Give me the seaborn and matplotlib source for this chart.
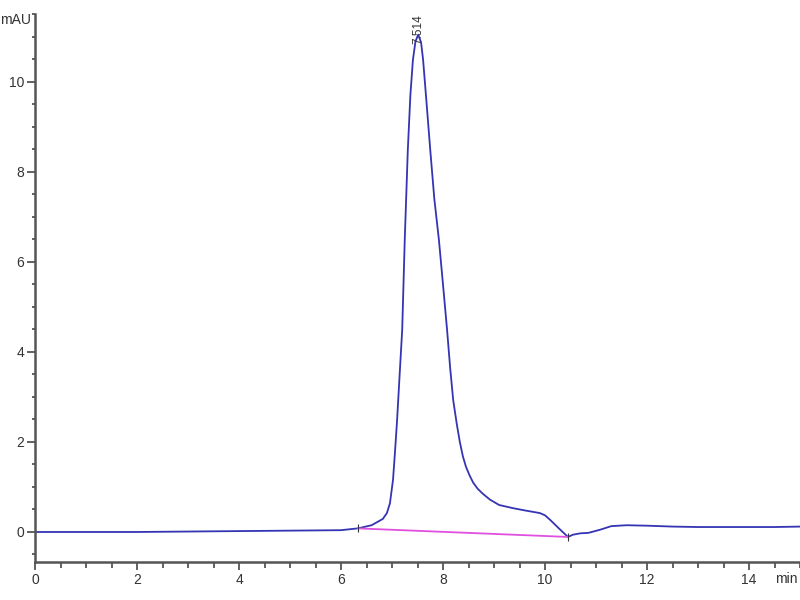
import matplotlib
matplotlib.use("Agg")
import matplotlib.pyplot as plt
import seaborn as sns
import pandas as pd
from matplotlib.ticker import MultipleLocator

# Chromatogram signal (minutes, mAU)
time_min = [0.0, 1.0, 2.0, 3.0, 4.0, 5.0, 5.5, 6.0, 6.33, 6.6, 6.82, 6.9, 6.96,
            7.02, 7.06, 7.10, 7.15, 7.20, 7.25, 7.31, 7.36, 7.41, 7.46, 7.514,
            7.57, 7.61, 7.68, 7.75, 7.83, 7.92, 8.00, 8.08, 8.14, 8.20, 8.27,
            8.33, 8.39, 8.45, 8.52, 8.59, 8.68, 8.78, 8.92, 9.10, 9.37, 9.60,
            9.90, 10.00, 10.10, 10.20, 10.30, 10.45, 10.55, 10.69, 10.85, 11.08,
            11.30, 11.60, 12.00, 12.50, 13.00, 13.50, 14.00, 14.50, 15.00]
signal_mau = [0.00, 0.00, 0.00, 0.01, 0.02, 0.03, 0.035, 0.04, 0.08, 0.15, 0.29, 0.42, 0.64,
              1.16, 1.80, 2.49, 3.50, 4.49, 6.49, 8.49, 9.70, 10.49, 10.90, 11.05,
              10.88, 10.49, 9.50, 8.49, 7.40, 6.49, 5.50, 4.49, 3.65, 2.93, 2.40,
              2.00, 1.68, 1.45, 1.26, 1.10, 0.96, 0.85, 0.72, 0.60, 0.53, 0.48,
              0.42, 0.37, 0.27, 0.16, 0.05, -0.11, -0.06, -0.03, -0.02, 0.05,
              0.13, 0.15, 0.14, 0.12, 0.11, 0.11, 0.11, 0.11, 0.12]

# Integration baseline
baseline_time = [6.33, 10.45]
baseline_mau = [0.08, -0.11]

peak_time = 7.514
peak_label = "7.514"

sns.set_style("ticks")
plt.rcParams['font.family'] = ['Liberation Sans', 'DejaVu Sans']

fig = plt.figure(figsize=(8, 6), dpi=100)
ax = fig.add_axes([35 / 800, 1 - 562 / 600, (800 - 35) / 800, (562 - 14) / 600])

df = pd.DataFrame({"t": time_min, "s": signal_mau})
sns.lineplot(data=df, x="t", y="s", ax=ax, color="#3434b4", linewidth=1.3,
             sort=False, estimator=None)
bdf = pd.DataFrame({"t": baseline_time, "s": baseline_mau})
sns.lineplot(data=bdf, x="t", y="s", ax=ax, color="#e050e0", linewidth=1.3,
             estimator=None)
ax.plot(baseline_time, baseline_mau, linestyle="none", marker="|",
        markersize=6, color="#333333", markeredgewidth=0.8)

ax.set_xlim(0, 15.0)
ax.set_ylim(-0.667, 11.51)
ax.xaxis.set_major_locator(MultipleLocator(2))
ax.xaxis.set_minor_locator(MultipleLocator(0.5))
ax.yaxis.set_major_locator(MultipleLocator(2))
ax.yaxis.set_minor_locator(MultipleLocator(0.5))

for side in ["top", "right"]:
    ax.spines[side].set_visible(False)
for side in ["left", "bottom"]:
    ax.spines[side].set_color("#555555")
    ax.spines[side].set_linewidth(1.8)

ax.tick_params(axis="both", which="major", length=6, width=1.3, color="#555555",
               labelsize=10, labelcolor="#333333", direction="out", pad=2)
ax.tick_params(axis="y", which="minor", length=2.5, width=1.3, color="#555555",
               direction="out")
ax.tick_params(axis="x", which="minor", length=4, width=1.3, color="#555555",
               direction="out")
ax.set_xlabel("")
ax.set_ylabel("")

ax.text(peak_time, 10.85, peak_label, rotation=90, ha="center", va="bottom",
        fontsize=8.5, color="#333333")

fig.text(0 / 800, 1 - 20 / 600, "mAU", ha="left", va="center", fontsize=10,
         color="#333333")
fig.text(798 / 800, 1 - 579 / 600, "min", ha="right", va="center", fontsize=10,
         color="#333333")

fig.savefig("out.png", dpi=100, facecolor="white")
